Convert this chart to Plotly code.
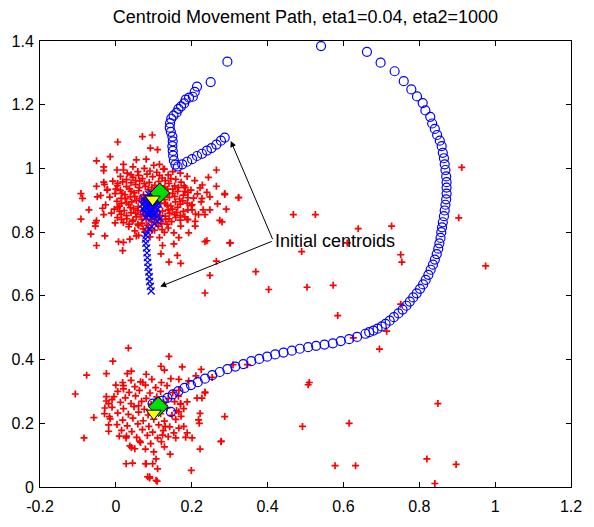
import plotly.graph_objects as go

# ---------------- data ----------------
# red "+" points, upper cluster (around 0.1, 0.9)
upper_pts = [
    (0.030,0.985),(0.058,0.990),(0.082,0.982),(0.108,0.988),(0.138,0.980),(0.012,0.975),(0.045,0.972),
    (0.070,0.968),(0.097,0.974),(0.122,0.970),(0.158,0.966),(0.188,0.975),
    (-0.008,0.960),(0.018,0.958),(0.040,0.955),(0.063,0.961),(0.088,0.956),(0.113,0.959),(0.140,0.953),
    (0.172,0.957),(0.208,0.962),
    (0.004,0.946),(0.028,0.943),(0.052,0.949),(0.078,0.944),(0.103,0.947),(0.129,0.941),(0.155,0.945),
    (0.183,0.940),(0.228,0.948),
    (-0.022,0.934),(0.012,0.931),(0.036,0.936),(0.060,0.930),(0.085,0.933),(0.112,0.929),(0.136,0.935),
    (0.163,0.928),(0.198,0.932),
    (-0.002,0.921),(0.024,0.918),(0.048,0.923),(0.073,0.917),(0.099,0.920),(0.124,0.915),(0.150,0.922),
    (0.178,0.916),(0.215,0.920),
    (-0.016,0.910),(0.014,0.906),(0.038,0.911),(0.063,0.905),(0.089,0.908),(0.116,0.903),(0.141,0.909),
    (0.168,0.904),(0.205,0.907),
    (0.003,0.897),(0.028,0.893),(0.054,0.899),(0.079,0.892),(0.104,0.896),(0.130,0.890),(0.157,0.895),
    (0.188,0.891),
    (-0.027,0.886),(0.010,0.882),(0.034,0.887),(0.059,0.880),(0.084,0.884),(0.110,0.879),(0.135,0.885),
    (0.163,0.878),(0.199,0.883),
    (-0.004,0.872),(0.022,0.868),(0.047,0.874),(0.072,0.867),(0.098,0.871),(0.123,0.866),(0.149,0.872),
    (0.178,0.865),
    (-0.012,0.860),(0.014,0.856),(0.040,0.861),(0.065,0.855),(0.090,0.858),(0.116,0.853),(0.142,0.859),
    (0.170,0.852),(0.210,0.857),
    (0.004,0.846),(0.029,0.842),(0.054,0.848),(0.080,0.841),(0.106,0.845),(0.131,0.840),(0.158,0.846),
    (0.190,0.839),
    (0.020,0.830),(0.044,0.834),(0.069,0.828),(0.095,0.832),(0.121,0.827),(0.147,0.833),
    (0.034,0.817),(0.060,0.820),(0.085,0.814),(0.112,0.819),(0.138,0.813),
    (0.050,0.804),(0.076,0.800),(0.102,0.806),(0.128,0.799),
    (0.045,1.005),(0.075,1.000),(0.100,1.010),(0.125,0.998),(0.150,0.990),(0.170,0.985),(-0.030,0.950),
    (-0.040,0.915),(-0.035,0.875),(0.225,0.895),(0.230,0.870),(0.240,0.925),(0.180,0.945),(0.060,0.790),
    (0.090,0.785),
    (0.020,0.995),(0.060,0.978),(0.115,0.978),(0.145,0.968),(0.028,0.965),(0.075,0.952),(0.118,0.945),
    (0.165,0.940),(0.016,0.922),(0.062,0.940),(0.137,0.922),(0.190,0.925),(0.025,0.905),(0.075,0.906),
    (0.128,0.902),(0.176,0.898),(0.042,0.895),(0.093,0.885),(0.145,0.882),(0.010,0.865),(0.058,0.868),
    (0.110,0.865),(0.160,0.862),(0.028,0.852),(0.077,0.852),(0.130,0.850),(0.182,0.848),(0.045,0.838),
    (0.093,0.840),(0.140,0.842),(0.058,0.825),(0.108,0.828),(0.072,0.810),(0.122,0.808),
    (0.040,0.980),(0.090,0.992),(0.130,0.962),(0.052,0.962),(0.005,0.953),(0.095,0.940),(0.150,0.935),
    (0.040,0.928),(0.120,0.932),(0.000,0.935),(0.182,0.928),(0.050,0.912),(0.100,0.930),(0.155,0.912),
    (0.190,0.908),(0.015,0.890),(0.068,0.895),(0.118,0.890),(0.170,0.888),(0.038,0.877),(0.085,0.875),
    (0.138,0.870),(0.190,0.870),(0.005,0.878),(0.052,0.860),(0.100,0.850),(0.155,0.855),(0.015,0.840),
    (0.068,0.840),(0.118,0.840),(0.170,0.838),(0.035,0.825),(0.082,0.822),(0.135,0.825),(0.095,0.805),
    # outer points
    (0.005,1.083),(0.070,1.100),(0.096,1.105),(0.091,1.064),(-0.051,1.024),(-0.015,1.037),(-0.032,1.005),
    (-0.032,0.993),(0.003,0.995),(0.020,1.013),(0.054,1.027),(0.080,1.029),(-0.051,0.944),(-0.032,0.957),
    (-0.092,0.921),(-0.088,0.906),(-0.049,0.911),(-0.023,0.932),(-0.071,0.870),(-0.092,0.841),
    (-0.051,0.836),(-0.032,0.855),(-0.054,0.819),(-0.066,0.794),(-0.029,0.788),(-0.051,0.758),
    (0.007,0.770),(0.018,0.742),(-0.002,0.829),(0.037,0.778),(0.054,0.788),
    (0.110,1.059),(0.115,1.013),(0.128,0.998),(0.265,0.995),(0.244,0.972),(0.222,0.939),(0.265,0.944),
    (0.287,0.918),(0.323,0.908),(0.248,0.911),(0.227,0.906),(0.201,0.886),(0.268,0.889),(0.291,0.872),
    (0.248,0.870),(0.235,0.855),(0.218,0.855),(0.201,0.870),(0.274,0.837),(0.209,0.834),(0.188,0.840),
    (0.171,0.819),(0.209,0.819),(0.192,0.798),(0.153,0.798),(0.166,0.783),(0.235,0.770),(0.300,0.766),
    (0.123,0.758),(0.119,0.732),(0.140,0.706),(0.153,0.763),(0.115,0.783),(0.162,0.727),(0.171,0.702),
    (0.020,0.768),(-0.054,0.829),(0.240,0.773),(0.287,0.921),(0.280,0.832),
]

# red "+" points, lower cluster (around 0.1, 0.23)
lower_pts = [
    (0.040,0.335),(0.065,0.330),(0.095,0.338),(0.120,0.328),
    (0.020,0.318),(0.050,0.315),(0.078,0.320),(0.105,0.312),(0.135,0.318),
    (0.005,0.300),(0.035,0.297),(0.062,0.303),(0.090,0.295),(0.118,0.300),(0.150,0.296),
    (-0.005,0.284),(0.025,0.280),(0.052,0.286),(0.080,0.278),(0.108,0.283),(0.138,0.277),(0.165,0.285),
    (0.012,0.266),(0.040,0.262),(0.068,0.269),(0.093,0.260),(0.125,0.264),(0.155,0.268),
    (-0.010,0.250),(0.020,0.246),(0.048,0.252),(0.075,0.244),(0.135,0.248),(0.160,0.240),
    (0.005,0.232),(0.033,0.228),(0.060,0.235),(0.085,0.226),(0.118,0.230),(0.148,0.225),
    (-0.015,0.214),(0.018,0.210),(0.045,0.216),(0.072,0.208),(0.100,0.213),(0.128,0.207),(0.158,0.212),
    (0.003,0.196),(0.030,0.192),(0.058,0.198),(0.087,0.190),(0.113,0.195),(0.142,0.189),
    (0.015,0.178),(0.042,0.174),(0.070,0.180),(0.097,0.172),(0.125,0.177),
    (0.028,0.160),(0.055,0.156),(0.083,0.162),(0.110,0.154),(0.138,0.158),
    (0.065,0.140),(0.092,0.136),(0.120,0.142),
    (0.000,0.320),(0.145,0.340),(0.170,0.260),(0.172,0.222),(-0.030,0.230),(-0.025,0.270),(0.050,0.120),
    (0.100,0.110),(0.130,0.190),(0.060,0.255),
    # outer points
    (0.033,0.436),(-0.008,0.395),(-0.077,0.351),(-0.025,0.356),(0.030,0.356),(0.041,0.364),(0.018,0.328),
    (0.020,0.308),(-0.107,0.292),(-0.025,0.284),(-0.010,0.274),(-0.029,0.248),(-0.019,0.262),
    (-0.058,0.218),(-0.017,0.221),(-0.019,0.195),(-0.019,0.175),(-0.084,0.154),(0.009,0.160),
    (0.027,0.154),(0.037,0.129),(0.041,0.124),(0.063,0.144),(0.078,0.119),(0.027,0.073),(0.044,0.075),
    (0.078,0.073),(0.084,0.032),
    (0.140,0.410),(0.175,0.377),(0.119,0.379),(0.225,0.369),(0.211,0.349),(0.192,0.333),(0.235,0.295),
    (0.214,0.279),(0.227,0.279),(0.188,0.267),(0.171,0.262),(0.179,0.246),(0.166,0.236),(0.222,0.231),
    (0.287,0.221),(0.218,0.211),(0.220,0.200),(0.166,0.185),(0.179,0.190),(0.153,0.170),(0.158,0.154),
    (0.184,0.156),(0.201,0.154),(0.188,0.170),(0.278,0.144),(0.222,0.119),(0.123,0.163),(0.143,0.103),
    (0.128,0.126),(0.106,0.088),(0.080,0.073),(0.097,0.073),(0.110,0.057),(0.089,0.032),(0.106,0.021),
    (0.199,0.052),(0.071,0.328),(0.080,0.354),(0.128,0.367),(0.166,0.338),(0.166,0.303),
    (0.089,0.028),(0.109,0.018),(0.254,0.344),(0.235,0.298),(0.277,0.142),
]

# red "+" points scattered over the whole field
noise_pts = [
    (0.468,0.855),(0.526,0.855),(0.639,0.811),(0.727,0.819),(0.490,0.739),(0.369,0.676),(0.403,0.620),
    (0.504,0.627),(0.573,0.633),(0.585,0.538),(0.695,0.433),(0.626,0.468),(0.510,0.328),(0.507,0.321),
    (0.492,0.190),(0.615,0.200),(0.578,0.067),(0.632,0.067),(0.302,0.766),(0.235,0.609),(0.265,0.709),
    (0.248,0.664),(0.309,0.384),(0.347,0.384),(0.324,0.909),(0.904,0.845),(0.975,0.694),(0.751,0.729),
    (0.754,0.706),(0.610,0.766),(0.751,0.574),(0.714,0.489),(0.849,0.262),(0.820,0.088),(0.897,0.071),
    (0.841,0.011),(0.912,1.003),
]

# centroid 1 path (open circles)
path1 = [
    (0.287,1.097),(0.277,1.087),(0.265,1.075),(0.252,1.064),(0.240,1.056),(0.227,1.046),(0.214,1.039),
    (0.201,1.029),(0.188,1.021),(0.175,1.013),(0.163,1.006),(0.157,1.012),(0.153,1.025),(0.151,1.040),
    (0.150,1.055),(0.149,1.070),(0.150,1.085),(0.149,1.100),(0.145,1.115),(0.142,1.128),(0.143,1.142),
    (0.146,1.156),(0.152,1.166),(0.160,1.175),(0.165,1.187),(0.172,1.195),(0.180,1.204),(0.184,1.216),
    (0.193,1.222),(0.203,1.225),(0.208,1.240),(0.214,1.257),(0.250,1.271),(0.294,1.335),
    (0.541,1.384),(0.662,1.366),(0.698,1.332),(0.735,1.305),(0.759,1.274),(0.779,1.248),(0.794,1.226),
    (0.809,1.205),(0.816,1.182),(0.829,1.162),(0.834,1.141),(0.841,1.124),(0.847,1.105),(0.854,1.087),
    (0.859,1.070),(0.862,1.049),(0.865,1.032),(0.867,1.013),(0.869,0.995),(0.871,0.975),(0.872,0.957),
    (0.872,0.940),(0.872,0.921),(0.871,0.903),(0.869,0.886),(0.867,0.868),(0.865,0.850),(0.862,0.831),
    (0.860,0.815),(0.858,0.800),(0.856,0.782),(0.853,0.765),(0.850,0.748),(0.846,0.731),(0.841,0.714),
    (0.836,0.698),(0.830,0.682),(0.824,0.666),(0.817,0.650),(0.810,0.636),(0.802,0.622),(0.793,0.608),
    (0.784,0.595),(0.775,0.582),(0.766,0.569),(0.756,0.557),(0.745,0.545),(0.733,0.533),(0.722,0.522),
    (0.711,0.512),(0.701,0.504),(0.690,0.497),(0.679,0.491),(0.668,0.486),(0.658,0.481),(0.636,0.471),
    (0.615,0.464),(0.593,0.458),(0.572,0.451),(0.550,0.447),(0.528,0.443),(0.507,0.439),(0.485,0.434),
    (0.464,0.428),(0.442,0.422),(0.420,0.416),(0.399,0.409),(0.378,0.402),(0.357,0.395),(0.336,0.386),
    (0.315,0.378),(0.294,0.370),(0.274,0.361),(0.254,0.351),(0.235,0.340),(0.216,0.329),(0.198,0.320),
    (0.181,0.311),(0.165,0.301),(0.150,0.291),(0.136,0.280),(0.123,0.271),(0.110,0.265),(0.097,0.262),
    (0.120,0.250),(0.145,0.236),
]

# centroid 2 path (x marks)
path2 = [
    (0.093,0.615),(0.091,0.630),(0.089,0.645),(0.088,0.660),(0.087,0.675),(0.085,0.690),(0.084,0.705),
    (0.083,0.720),(0.082,0.735),(0.081,0.750),(0.079,0.765),(0.078,0.778),(0.080,0.790),(0.083,0.800),
    (0.088,0.810),(0.094,0.818),(0.102,0.826),(0.110,0.834),(0.117,0.842),(0.108,0.850),(0.098,0.856),
    (0.090,0.862),(0.085,0.868),(0.080,0.875),(0.078,0.882),(0.082,0.888),(0.088,0.892),(0.093,0.897),
    (0.098,0.900),(0.102,0.895),(0.105,0.888),(0.100,0.880),(0.095,0.872),(0.090,0.880),(0.085,0.890),
    (0.080,0.897),(0.085,0.905),(0.092,0.910),(0.098,0.913),(0.104,0.905),(0.108,0.897),(0.103,0.880),
    (0.098,0.870),(0.093,0.860),(0.088,0.852),(0.082,0.858),(0.076,0.866),(0.075,0.880),(0.076,0.895),
    (0.080,0.910),(0.087,0.918),(0.094,0.922),(0.100,0.918),(0.072,0.872),(0.070,0.888),(0.073,0.905),
    (0.110,0.872),(0.112,0.888),(0.079,0.845),(0.095,0.845),(0.106,0.860),
]

true_x = [0.097, 0.100]
true_y = [0.903, 0.231]
final_x = [0.116, 0.112]
final_y = [0.923, 0.252]

annot_text = "Initial centroids"
annot_pos = (0.415, 0.773)
init1 = (0.303, 1.086)
init2 = (0.117, 0.629)

x_ticks = [-0.2, 0, 0.2, 0.4, 0.6, 0.8, 1, 1.2]
x_tick_labels = ["-0.2", "0", "0.2", "0.4", "0.6", "0.8", "1", "1.2"]
y_ticks = [0, 0.2, 0.4, 0.6, 0.8, 1, 1.2, 1.4]
y_tick_labels = ["0", "0.2", "0.4", "0.6", "0.8", "1", "1.2", "1.4"]
title_text = "Centroid Movement Path, eta1=0.04, eta2=1000"

# ---------------- figure ----------------
FONT = "Liberation Sans, Arial, sans-serif"

def xs(p):
    return [a for a, _ in p]

def ys(p):
    return [b for _, b in p]

red_pts = upper_pts + lower_pts + noise_pts

fig = go.Figure()
fig.add_trace(go.Scatter(x=xs(red_pts), y=ys(red_pts), mode="markers",
                         marker=dict(symbol="cross-thin", size=5, line=dict(color="#ff0000", width=1.7))))
fig.add_trace(go.Scatter(x=xs(path1), y=ys(path1), mode="markers",
                         marker=dict(symbol="circle-open", size=9, color="#0000ff", line=dict(width=1.2))))
fig.add_trace(go.Scatter(x=xs(path2), y=ys(path2), mode="markers",
                         marker=dict(symbol="x-thin", size=7, line=dict(color="#0000ff", width=1.3))))
fig.add_trace(go.Scatter(x=final_x, y=final_y, mode="markers",
                         marker=dict(symbol="diamond", size=15, color="#00e000", line=dict(color="black", width=1))))
fig.add_trace(go.Scatter(x=true_x, y=true_y, mode="markers",
                         marker=dict(symbol="triangle-down", size=13, color="#ffff00", line=dict(color="black", width=1))))

for tgt in (init1, init2):
    fig.add_annotation(x=tgt[0], y=tgt[1], ax=annot_pos[0], ay=annot_pos[1], axref="x", ayref="y",
                       xref="x", yref="y", text="", showarrow=True, arrowhead=2, arrowsize=1.2,
                       arrowwidth=1, arrowcolor="black")
fig.add_annotation(x=annot_pos[0], y=annot_pos[1], xref="x", yref="y", text=annot_text, showarrow=False,
                   xanchor="left", yanchor="middle", font=dict(family=FONT, size=18, color="black"))

axis_common = dict(showgrid=False, zeroline=False, showline=True, linecolor="black", linewidth=1,
                   mirror="ticks", ticks="inside", ticklen=5, tickcolor="black",
                   tickfont=dict(family=FONT, size=16, color="black"))
fig.update_xaxes(range=[-0.2, 1.2], tickvals=x_ticks, ticktext=x_tick_labels, ticklabelstandoff=5,
                 **axis_common)
fig.update_yaxes(range=[0, 1.4], tickvals=y_ticks, ticktext=y_tick_labels, ticklabelstandoff=2,
                 **axis_common)

fig.update_layout(
    width=594, height=527,
    margin=dict(l=38, r=14, t=41, b=30),
    paper_bgcolor="white", plot_bgcolor="white",
    showlegend=False,
    title=dict(text=title_text, x=0.5, xref="paper", xanchor="center", y=1 - 17 / 527, yref="container",
               yanchor="middle", font=dict(family=FONT, size=18, color="black")),
)

fig.write_html("out.html")
